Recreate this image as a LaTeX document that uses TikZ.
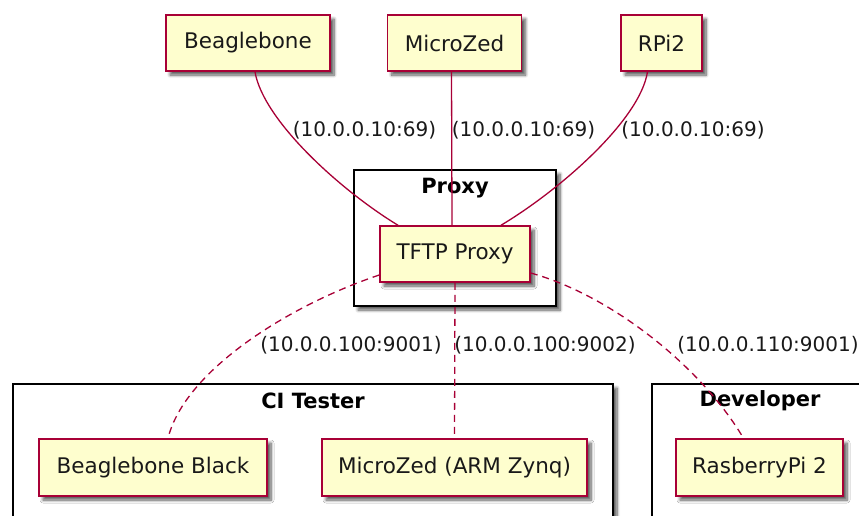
\documentclass[tikz,border=0pt]{standalone}
\usepackage{fontspec}
\setmainfont{DejaVu Sans}
\usetikzlibrary{shadows.blur}
\definecolor{pumlred}{HTML}{A80036}
\definecolor{pumlfill}{HTML}{FEFECE}
\tikzset{
  pshadow/.style={blur shadow={shadow xshift=4pt, shadow yshift=-4pt, shadow opacity=65, shadow blur radius=3pt, shadow blur steps=8}},
  comp/.style={draw=pumlred, fill=pumlfill, line width=1.5pt, inner sep=0pt,
    font=\fontsize{21.5}{25}\selectfont, text=black!90, pshadow},
  frame/.style={draw=black, fill=white, line width=1.7pt, pshadow},
  ftitle/.style={font=\fontsize{21}{25}\bfseries\selectfont, inner sep=0pt},
  elabel/.style={font=\fontsize{20}{24}\selectfont, text=black!90, inner sep=0pt},
  solidedge/.style={draw=pumlred, line width=1.3pt},
  dashedge/.style={draw=pumlred, line width=1.3pt, dash pattern=on 7pt off 5pt},
}
\begin{document}
\begin{tikzpicture}[x=1pt,y=-1pt]
\useasboundingbox (0,0) rectangle (859,515);
\clip (0,0) rectangle (859,515);
% frames
\path[frame] (354,170) rectangle (556,306);
\node[ftitle] (tproxy) at (455,188) {Proxy};
\path[frame] (13,384) rectangle (613,540);
\node[ftitle] (tci) at (313,401) {CI Tester};
\path[frame] (652,384) rectangle (868,540);
\node[ftitle] (tdev) at (760,401) {Developer};
% nodes
\node[comp, minimum width=164pt, minimum height=56pt] (bb) at (248,43) {Beaglebone};
\node[comp, minimum width=134pt, minimum height=56pt] (mz) at (454.5,43) {MicroZed};
\node[comp, minimum width=81pt, minimum height=56pt] (rpi) at (661.5,43) {RPi2};
\node[comp, minimum width=150pt, minimum height=56pt] (tftp) at (455,254) {TFTP Proxy};
\node[comp, minimum width=228pt, minimum height=57pt] (bbb) at (153,467.5) {Beaglebone Black};
\node[comp, minimum width=265pt, minimum height=57pt] (mzz) at (454.5,467.5) {MicroZed (ARM Zynq)};
\node[comp, minimum width=167pt, minimum height=57pt] (rpb) at (759.5,467.5) {RasberryPi 2};
% edges
\path[solidedge] ([xshift=7pt]bb.south) .. controls (263,120) and (340,190) .. ([xshift=-57pt]tftp.north);
\path[solidedge] ([xshift=-3pt]mz.south) -- ([xshift=-3pt]tftp.north);
\path[solidedge] ([xshift=-14pt]rpi.south) .. controls (640,120) and (560,190) .. ([xshift=46pt]tftp.north);
\path[dashedge] ([yshift=-21pt]tftp.west) .. controls (290,305) and (185,370) .. ([xshift=15pt]bbb.north);
\path[dashedge] (tftp.south) -- (mzz.north);
\path[dashedge] ([yshift=-19pt]tftp.east) .. controls (610,295) and (700,365) .. ([xshift=-16pt]rpb.north);
% labels
\node[elabel] (l1) at (364.5,130) {(10.0.0.10:69)};
\node[elabel] (l2) at (523.5,130) {(10.0.0.10:69)};
\node[elabel] (l3) at (693,130) {(10.0.0.10:69)};
\node[elabel] (l4) at (351,345) {(10.0.0.100:9001)};
\node[elabel] (l5) at (545,345) {(10.0.0.100:9002)};
\node[elabel] (l6) at (768,345) {(10.0.0.110:9001)};
\end{tikzpicture}
\end{document}
